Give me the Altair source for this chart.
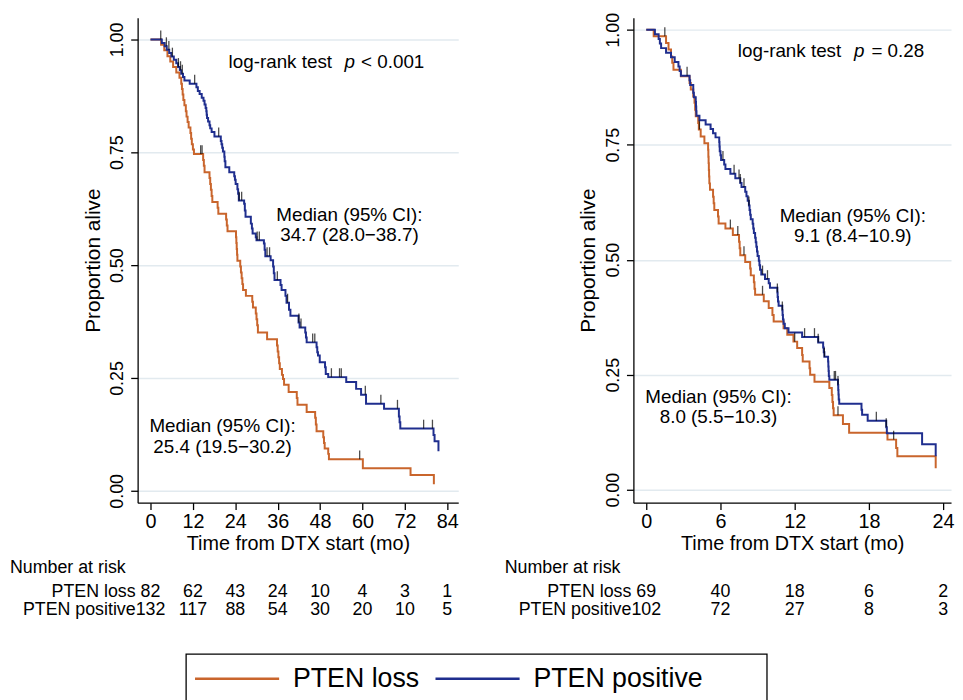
import altair as alt
import pandas as pd

FONT = "Liberation Sans"
ORANGE = "#c9652c"
BLUE = "#1f2e8e"
GROUPS = ["PTEN loss", "PTEN positive"]

# ---------------- Left panel data (months) ----------------
L_LOSS_T = [0, 3.0, 3.9, 4.8, 5.6, 6.4, 7.3, 8.2, 8.7, 8.9, 9.1, 9.3, 9.6, 10.0, 10.2, 10.5,
            10.8, 11.3, 11.5, 11.7, 12.0, 12.3, 14.9, 15.1, 15.3, 16.7, 16.9, 17.1, 17.3, 17.5,
            19.0, 19.2, 21.4, 21.6, 21.8, 24.2, 24.3, 24.4, 24.5, 24.6, 25.4, 25.6, 25.8, 26.0,
            26.2, 27.0, 28.8, 29.0, 29.8, 30.0, 30.2, 30.4, 33.0, 35.8, 36.0, 36.2, 36.4, 36.6,
            37.2, 37.5, 37.8, 39.1, 41.4, 41.6, 44.2, 46.6, 46.8, 47.0, 48.9, 49.1, 49.3, 50.3,
            50.5, 60.1, 73.6, 80.2]
L_LOSS_S = [1.0, 0.988, 0.976, 0.963, 0.951, 0.939, 0.927, 0.915, 0.902, 0.890, 0.878, 0.866,
            0.854, 0.841, 0.829, 0.817, 0.805, 0.793, 0.780, 0.768, 0.756, 0.746, 0.733, 0.720,
            0.706, 0.693, 0.680, 0.667, 0.653, 0.640, 0.627, 0.614, 0.601, 0.588, 0.575, 0.562,
            0.549, 0.536, 0.523, 0.510, 0.497, 0.484, 0.471, 0.458, 0.445, 0.432, 0.419, 0.406,
            0.393, 0.380, 0.367, 0.351, 0.336, 0.322, 0.309, 0.296, 0.283, 0.270, 0.257, 0.248,
            0.235, 0.219, 0.206, 0.191, 0.175, 0.162, 0.147, 0.132, 0.119, 0.106, 0.094, 0.082,
            0.070, 0.050, 0.035, 0.015]
L_LOSS_CENS = [14.2, 14.6, 59.2]

L_POS_T = [0, 3.2, 4.0, 4.6, 5.3, 5.9, 6.6, 7.3, 7.8, 8.3, 8.7, 9.2, 9.6, 11.1, 13.0, 13.4,
           13.9, 14.5, 15.0, 15.3, 15.6, 15.8, 15.9, 16.0, 16.3, 16.7, 16.9, 17.3, 18.1, 19.9,
           20.1, 20.3, 20.5, 20.9, 21.0, 21.2, 22.3, 23.7, 23.9, 24.1, 24.6, 24.8, 25.0, 26.5,
           26.7, 26.9, 28.4, 28.7, 28.9, 29.8, 30.0, 32.1, 32.3, 32.5, 34.0, 34.7, 34.9, 35.1,
           36.8, 37.1, 38.2, 38.5, 39.2, 39.6, 41.9, 42.2, 43.8, 44.0, 44.2, 47.0, 47.2, 47.4,
           47.9, 49.4, 49.6, 50.3, 55.4, 58.2, 59.6, 61.0, 66.1, 70.3, 70.5, 70.7, 80.1, 80.4,
           81.5]
L_POS_S = [1.0, 0.992, 0.985, 0.977, 0.970, 0.962, 0.955, 0.947, 0.939, 0.932, 0.924, 0.917,
           0.909, 0.902, 0.894, 0.886, 0.879, 0.871, 0.864, 0.856, 0.848, 0.841, 0.833, 0.826,
           0.818, 0.810, 0.803, 0.795, 0.785, 0.775, 0.768, 0.760, 0.752, 0.740, 0.730, 0.717,
           0.706, 0.697, 0.689, 0.680, 0.668, 0.658, 0.643, 0.636, 0.621, 0.607, 0.592, 0.581,
           0.570, 0.562, 0.555, 0.548, 0.534, 0.520, 0.511, 0.497, 0.482, 0.467, 0.456, 0.445,
           0.432, 0.417, 0.401, 0.388, 0.373, 0.362, 0.351, 0.340, 0.329, 0.318, 0.307, 0.300,
           0.285, 0.274, 0.259, 0.252, 0.241, 0.226, 0.213, 0.193, 0.182, 0.165, 0.152, 0.138,
           0.124, 0.110, 0.088]
L_POS_CENS = [2.9, 4.5, 5.2, 6.2, 7.9, 8.5, 9.0, 12.5, 19.3, 25.1, 25.8, 30.2, 30.8, 33.0,
              33.7, 35.9, 38.8, 42.0, 42.6, 45.9, 46.5, 51.2, 53.5, 54.0, 60.8, 65.2, 69.9,
              77.3, 79.8]

L_XTICKS = [0, 12, 24, 36, 48, 60, 72, 84]
L_RISK_LOSS = [82, 62, 43, 24, 10, 4, 3, 1]
L_RISK_POS = [132, 117, 88, 54, 30, 20, 10, 5]

# ---------------- Right panel data (months) ----------------
R_LOSS_T = [0, 0.6, 1.6, 1.8, 2.0, 2.1, 2.2, 2.8, 3.5, 3.6, 3.8, 3.9, 3.95, 4.0, 4.2, 4.25,
            4.4, 4.7, 5.0, 5.02, 5.04, 5.06, 5.08, 5.1, 5.15, 5.4, 5.45, 5.5, 5.8, 5.85, 6.4,
            7.0, 7.5, 7.55, 7.6, 8.0, 8.4, 8.45, 8.7, 8.75, 8.8, 9.5, 9.9, 10.2, 10.3, 11.1,
            11.4, 11.9, 12.2, 12.6, 12.65, 13.2, 13.25, 13.6, 14.8, 15.0, 15.05, 15.1, 15.15,
            15.9, 16.4, 19.5, 20.2, 20.3, 23.4]
R_LOSS_S = [1.0, 0.986, 0.971, 0.957, 0.942, 0.928, 0.913, 0.899, 0.884, 0.870, 0.855, 0.841,
            0.826, 0.812, 0.797, 0.783, 0.768, 0.753, 0.739, 0.724, 0.710, 0.695, 0.681, 0.666,
            0.652, 0.637, 0.623, 0.608, 0.594, 0.579, 0.568, 0.554, 0.539, 0.525, 0.510, 0.495,
            0.481, 0.466, 0.451, 0.437, 0.424, 0.410, 0.395, 0.380, 0.366, 0.351, 0.337, 0.322,
            0.308, 0.293, 0.279, 0.264, 0.250, 0.235, 0.221, 0.206, 0.191, 0.177, 0.162, 0.143,
            0.124, 0.109, 0.091, 0.073, 0.047]
R_LOSS_CENS = [1.5, 4.3, 6.8, 7.4, 7.9, 9.4, 12.0, 15.5, 20.0]

R_POS_T = [0, 0.7, 1.0, 1.1, 1.2, 1.6, 2.0, 2.3, 2.6, 2.7, 2.8, 3.5, 3.55, 3.8, 3.85, 4.0,
           4.02, 4.04, 4.06, 4.3, 4.8, 5.2, 5.4, 5.6, 5.9, 5.92, 5.94, 6.0, 6.05, 6.3, 6.4, 6.8,
           7.2, 7.6, 7.7, 8.0, 8.1, 8.2, 8.3, 8.35, 8.4, 8.45, 8.6, 8.65, 8.7, 8.8, 8.85, 8.9,
           8.95, 9.0, 9.1, 9.15, 9.2, 9.3, 9.6, 9.9, 10.0, 10.6, 10.62, 10.65, 10.7, 11.0, 11.02,
           11.05, 11.1, 11.2, 11.5, 12.6, 13.9, 14.3, 14.35, 14.4, 14.7, 14.72, 14.74, 14.76,
           14.8, 15.5, 15.52, 15.54, 15.56, 15.6, 17.4, 17.45, 17.9, 19.4, 19.45, 22.3, 23.4]
R_POS_S = [1.0, 0.990, 0.980, 0.970, 0.960, 0.950, 0.940, 0.930, 0.920, 0.910, 0.900, 0.890,
           0.880, 0.863, 0.853, 0.843, 0.833, 0.823, 0.813, 0.803, 0.794, 0.784, 0.775, 0.766,
           0.756, 0.746, 0.736, 0.727, 0.717, 0.707, 0.697, 0.687, 0.677, 0.667, 0.658, 0.648,
           0.638, 0.628, 0.618, 0.608, 0.598, 0.588, 0.578, 0.568, 0.558, 0.548, 0.538, 0.528,
           0.518, 0.508, 0.498, 0.488, 0.478, 0.468, 0.458, 0.449, 0.439, 0.429, 0.419, 0.409,
           0.400, 0.390, 0.380, 0.370, 0.361, 0.351, 0.342, 0.332, 0.320, 0.309, 0.299, 0.289,
           0.279, 0.268, 0.258, 0.247, 0.239, 0.228, 0.217, 0.207, 0.196, 0.187, 0.174, 0.163,
           0.150, 0.136, 0.123, 0.099, 0.073]
R_POS_CENS = [3.3, 6.2, 7.1, 7.5, 7.6, 7.9, 8.3, 9.4, 9.8, 10.6, 11.0, 12.8, 13.6, 13.9, 14.4,
              15.2, 15.3, 15.5, 18.6, 19.4]

R_XTICKS = [0, 6, 12, 18, 24]
R_RISK_LOSS = [69, 40, 18, 6, 2]
R_RISK_POS = [102, 72, 27, 8, 3]

# Text annotations: (text, time, proportion, align, style)
L_NOTES = [
    ("log-rank test", 22.1, 0.950, "left", "normal"),
    ("p", 54.9, 0.950, "left", "italic"),
    ("< 0.001", 59.6, 0.950, "left", "normal"),
    ("Median (95% CI):", 56.3, 0.612, "center", "normal"),
    ("34.7 (28.0\u221238.7)", 56.3, 0.566, "center", "normal"),
    ("Median (95% CI):", 20.4, 0.143, "center", "normal"),
    ("25.4 (19.5\u221230.2)", 20.4, 0.096, "center", "normal"),
]
R_NOTES = [
    ("log-rank test", 7.4, 0.953, "left", "normal"),
    ("p", 16.8, 0.953, "left", "italic"),
    ("= 0.28", 18.2, 0.953, "left", "normal"),
    ("Median (95% CI):", 16.7, 0.594, "center", "normal"),
    ("9.1 (8.4\u221210.9)", 16.7, 0.551, "center", "normal"),
    ("Median (95% CI):", 5.84, 0.202, "center", "normal"),
    ("8.0 (5.5\u221210.3)", 5.84, 0.159, "center", "normal"),
]


def curve_frame(times, surv, group):
    return pd.DataFrame({"t": times, "S": surv, "group": group, "i": list(range(len(times)))})


def censor_frame(ctimes, times, surv, group):
    rows = []
    for c in ctimes:
        s = surv[0]
        for t, v in zip(times, surv):
            if t <= c:
                s = v
            else:
                break
        rows.append({"t": c, "S": s, "group": group})
    return pd.DataFrame(rows)


color = alt.Color("group:N", scale=alt.Scale(domain=GROUPS, range=[ORANGE, BLUE]), legend=None)


def legend_layers():
    one = pd.DataFrame({"k": [0]})
    box = alt.Chart(one).mark_rect(fill="white", stroke="black", strokeWidth=1.3).encode(
        x=alt.value(49), x2=alt.value(636), y=alt.value(643), y2=alt.value(725))
    out = [box]
    for name, col, x0 in [(GROUPS[0], ORANGE, 58), (GROUPS[1], BLUE, 301)]:
        out.append(alt.Chart(one).mark_rule(color=col, strokeWidth=2.5).encode(
            x=alt.value(x0), x2=alt.value(x0 + 85), y=alt.value(668)))
        out.append(alt.Chart(pd.DataFrame({"label": [name]})).mark_text(
            align="left", baseline="middle", fontSize=27, color="black"
        ).encode(x=alt.value(x0 + 99), y=alt.value(668), text="label:N"))
    return out


def panel(curves, censors, xdom, ydom, xticks, risk_loss, risk_pos, notes, width,
          label_x, nar_x, extra=None):
    xs = alt.Scale(domain=xdom, nice=False, zero=False)
    ys = alt.Scale(domain=ydom, nice=False, zero=False)
    x_enc = alt.X("t:Q", scale=xs,
                  axis=alt.Axis(values=xticks, title="Time from DTX start (mo)", grid=False))
    y_enc = alt.Y("S:Q", scale=ys,
                  axis=alt.Axis(values=[0, 0.25, 0.5, 0.75, 1], format=".2f", labelAngle=270,
                                grid=True, title="Proportion alive"))
    lines = alt.Chart(curves).mark_line(interpolate="step-after", strokeWidth=2).encode(
        x=x_enc, y=y_enc, color=color, order=alt.Order("i:Q"))
    ticks = alt.Chart(censors).mark_tick(
        orient="vertical", color="black", size=9, thickness=1.3, yOffset=-4.5
    ).encode(x=x_enc, y=y_enc)
    layers = [lines, ticks]
    nd = pd.DataFrame(notes, columns=["text", "t", "S", "align", "style"])
    for (al, st), sub in nd.groupby(["align", "style"]):
        layers.append(
            alt.Chart(sub).mark_text(align=al, baseline="middle", fontSize=19, fontStyle=st,
                                     color="black").encode(x=x_enc, y=y_enc, text="text:N"))
    # risk table
    layers.append(
        alt.Chart(pd.DataFrame({"label": ["Number at risk"]})).mark_text(
            align="left", baseline="middle", fontSize=18, color="black"
        ).encode(x=alt.value(nar_x), y=alt.value(556), text="label:N"))
    for (name, vals, ypix) in [(GROUPS[0], risk_loss, 580), (GROUPS[1], risk_pos, 599)]:
        layers.append(
            alt.Chart(pd.DataFrame({"label": [name]})).mark_text(
                align="right", baseline="middle", fontSize=18, color="black"
            ).encode(x=alt.value(label_x), y=alt.value(ypix), text="label:N"))
        layers.append(
            alt.Chart(pd.DataFrame({"t": xticks, "n": vals})).mark_text(
                align="center", baseline="middle", fontSize=18, color="black"
            ).encode(x=x_enc, y=alt.value(ypix), text="n:Q"))
    if extra:
        layers.extend(extra)
    return alt.layer(*layers).properties(width=width, height=490)


left_curves = pd.concat([curve_frame(L_LOSS_T, L_LOSS_S, GROUPS[0]),
                         curve_frame(L_POS_T, L_POS_S, GROUPS[1])])
left_cens = pd.concat([censor_frame(L_LOSS_CENS, L_LOSS_T, L_LOSS_S, GROUPS[0]),
                       censor_frame(L_POS_CENS, L_POS_T, L_POS_S, GROUPS[1])])
right_curves = pd.concat([curve_frame(R_LOSS_T, R_LOSS_S, GROUPS[0]),
                          curve_frame(R_POS_T, R_POS_S, GROUPS[1])])
right_cens = pd.concat([censor_frame(R_LOSS_CENS, R_LOSS_T, R_LOSS_S, GROUPS[0]),
                        censor_frame(R_POS_CENS, R_POS_T, R_POS_S, GROUPS[1])])

left = panel(left_curves, left_cens, [-3.64, 87.1], [-0.026, 1.048], L_XTICKS,
             L_RISK_LOSS, L_RISK_POS, L_NOTES, 324, -2, -129, extra=legend_layers())
right = panel(right_curves, right_cens, [-1.04, 24.64], [-0.028, 1.026], R_XTICKS,
              R_RISK_LOSS, R_RISK_POS, R_NOTES, 321, -2, -130)

chart = alt.hconcat(left, right, spacing=177, bounds="flush").resolve_scale(
    x="independent", y="independent"
).properties(
    padding={"left": 2, "top": 0, "right": 0, "bottom": 0}
).configure(font=FONT).configure_axis(
    labelFont=FONT, titleFont=FONT, labelColor="black", titleColor="black",
    domainColor="black", tickColor="black", domainWidth=1.3, tickWidth=1.3,
    titleFontWeight="normal", tickSize=7,
).configure_axisX(
    labelFontSize=20, titleFontSize=20, labelPadding=2, titlePadding=2,
).configure_axisY(
    labelFontSize=18, titleFontSize=21, labelPadding=4, titlePadding=6,
    gridColor="#e2eaef", gridWidth=1.5,
).configure_view(stroke=None)

chart.save("out.html", embed_options={"renderer": "svg", "actions": False})
